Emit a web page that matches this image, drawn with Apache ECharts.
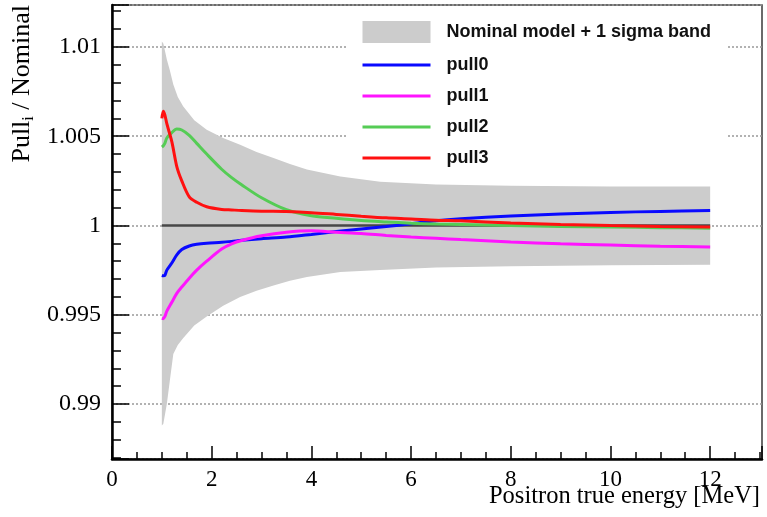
<!DOCTYPE html>
<html>
<head>
<meta charset="utf-8">
<script src="https://cdn.jsdelivr.net/npm/echarts@6/dist/echarts.min.js"></script>
<style>
html,body{margin:0;padding:0;background:#fff;}
#chart{width:767px;height:517px;}
</style>
</head>
<body>
<div id="chart"></div>
<script>
// ---- data ----
const bandEnergy = [1.0, 1.03, 1.1, 1.16, 1.23, 1.32, 1.43, 1.65, 1.9, 2.23, 2.57, 2.9, 3.24, 3.57, 3.91, 4.58, 5.38, 6.5, 8, 10, 12];
const bandUpper  = [1.0103, 1.0102, 1.0093, 1.0087, 1.0079, 1.0072, 1.00666, 1.0059, 1.00536, 1.0049, 1.00452, 1.00412, 1.00378, 1.00344, 1.00313, 1.00275, 1.00245, 1.0023, 1.00222, 1.00218, 1.00218];
const bandLower  = [0.9888, 0.9889, 0.9900, 0.9913, 0.9928, 0.9933, 0.9937, 0.9944, 0.9949, 0.9955, 0.9960, 0.99635, 0.99664, 0.9969, 0.99711, 0.99739, 0.99750, 0.99765, 0.99772, 0.99777, 0.9978];

const energy = [1.0, 1.03, 1.06, 1.1, 1.2, 1.3, 1.4, 1.55, 1.7, 1.9, 2.2, 2.4, 2.6, 3.0, 3.5, 4.0, 4.5, 5.0, 5.5, 6.0, 6.5, 7.0, 8.0, 9.0, 10.0, 11.0, 12.0];
const pull0 = [0.9972, 0.99718, 0.9972, 0.9975, 0.9979, 0.99835, 0.99865, 0.99885, 0.99895, 0.99901, 0.99906, 0.99911, 0.99917, 0.99926, 0.99935, 0.9995, 0.99966, 0.9998, 0.99994, 1.0001, 1.00027, 1.00038, 1.00053, 1.00064, 1.00073, 1.00079, 1.00084];
const pull1 = [0.9948, 0.99478, 0.9949, 0.9952, 0.9957, 0.9962, 0.99655, 0.99705, 0.9975, 0.998, 0.99868, 0.99897, 0.99916, 0.99942, 0.99962, 0.9997, 0.99962, 0.99955, 0.99944, 0.99935, 0.99928, 0.99921, 0.99908, 0.99897, 0.9989, 0.99884, 0.9988];
const pull2 = [1.0044, 1.00447, 1.0046, 1.0049, 1.0052, 1.0054, 1.00535, 1.00505, 1.0046, 1.004, 1.00315, 1.00268, 1.00228, 1.00155, 1.00088, 1.00055, 1.0004, 1.00028, 1.0002, 1.00013, 1.00008, 1.00005, 1.0, 0.99995, 0.99991, 0.99988, 0.99985];
const pull3 = [1.0060, 1.0064, 1.0062, 1.0057, 1.0047, 1.0033, 1.0025, 1.0016, 1.0013, 1.00105, 1.0009, 1.00087, 1.00084, 1.0008, 1.00078, 1.00072, 1.00062, 1.00052, 1.00043, 1.00037, 1.0003, 1.00026, 1.00014, 1.00006, 1.0, 0.99995, 0.99992];
const nominalEnergy = [1, 12];
const nominalValue = [1, 1];

const seriesNames = ['pull0', 'pull1', 'pull2', 'pull3'];
const seriesColors = ['#0a0aff', '#ff14ff', '#55cc55', '#ff1010'];
const bandName = 'Nominal model + 1 sigma band';
const xTitle = 'Positron true energy [MeV]';

// ---- build ----
const zip = (xs, ys) => xs.map((x, i) => [x, ys[i]]);
const pulls = [pull0, pull1, pull2, pull3];

const chart = echarts.init(document.getElementById('chart'), null, {renderer: 'canvas'});
const serif = 'Liberation Serif';

const series = [
  {
    name: bandName, type: 'custom', z: 1, silent: true,
    itemStyle: {color: '#cccccc'},
    data: bandEnergy.map((x, i) => [x, bandLower[i], bandUpper[i]]),
    encode: {x: 0, y: [1, 2]},
    renderItem: function (params, api) {
      if (params.dataIndex !== 0) return null;
      const pts = [];
      for (let i = 0; i < bandEnergy.length; i++) pts.push(api.coord([bandEnergy[i], bandUpper[i]]));
      for (let i = bandEnergy.length - 1; i >= 0; i--) pts.push(api.coord([bandEnergy[i], bandLower[i]]));
      return {type: 'polygon', shape: {points: pts}, style: {fill: '#cccccc'}};
    }
  },
  {
    name: 'nominal', type: 'line', symbol: 'none',
    data: zip(nominalEnergy, nominalValue),
    lineStyle: {color: '#474747', width: 2.5}, z: 2
  }
];
pulls.forEach((p, k) => {
  series.push({
    name: seriesNames[k], type: 'line', symbol: 'none', smooth: 0.3,
    data: zip(energy, p),
    itemStyle: {color: seriesColors[k]},
    lineStyle: {color: seriesColors[k], width: 3}, z: 3
  });
});

chart.setOption({
  animation: false,
  backgroundColor: '#fff',
  grid: {left: 112, right: 5, top: 5, bottom: 58, show: true, borderColor: '#3a3a3a', borderWidth: 1.5,
         containLabel: false, outerBoundsMode: 'none'},
  xAxis: {
    type: 'value', min: 0, max: 13.04, interval: 2,
    axisLine: {show: true, onZero: false, lineStyle: {color: '#000', width: 2.5}},
    axisTick: {show: true, inside: true, length: 13, lineStyle: {color: '#000', width: 1.5}},
    minorTick: {show: true, splitNumber: 4, length: 7, lineStyle: {color: '#000', width: 1.5}},
    axisLabel: {fontFamily: serif, fontSize: 23, color: '#000', margin: 9, showMaxLabel: false},
    splitLine: {show: false}
  },
  yAxis: {
    type: 'value', min: 0.98692, max: 1.01235, splitNumber: 5,
    axisLine: {show: true, onZero: false, lineStyle: {color: '#000', width: 2.5}},
    axisTick: {show: true, inside: true, length: 17, lineStyle: {color: '#000', width: 1.5}},
    minorTick: {show: true, splitNumber: 5, length: 9, lineStyle: {color: '#000', width: 1.5}},
    axisLabel: {fontFamily: serif, fontSize: 24, color: '#000', margin: 11, showMinLabel: false, showMaxLabel: false},
    splitLine: {show: true, lineStyle: {color: '#999', width: 1.5, type: [2, 2]}}
  },
  legend: {
    orient: 'vertical', left: 346, top: 10,
    padding: [11, 16, 4, 15], backgroundColor: '#fff',
    itemWidth: 68, itemHeight: 22, itemGap: 13,
    lineStyle: {width: 3},
    textStyle: {fontFamily: 'Liberation Sans', fontWeight: 'bold', fontSize: 18, color: '#111', padding: [0, 0, 0, 11]},
    data: [
      {name: bandName, icon: 'rect', itemStyle: {color: '#cccccc'}},
      {name: 'pull0', itemStyle: {opacity: 0}},
      {name: 'pull1', itemStyle: {opacity: 0}},
      {name: 'pull2', itemStyle: {opacity: 0}},
      {name: 'pull3', itemStyle: {opacity: 0}}
    ]
  },
  graphic: [{
    type: 'text', x: 22, y: 5, rotation: Math.PI / 2,
    style: {
      text: '{a|Pull}{s|i}{a| / Nominal}',
      align: 'right', verticalAlign: 'middle', fill: '#000',
      rich: {
        a: {fontFamily: serif, fontSize: 26, fill: '#000', lineHeight: 30},
        s: {fontFamily: serif, fontSize: 16, fill: '#000', lineHeight: 30, verticalAlign: 'bottom'}
      }
    }
  }, {
    type: 'text', x: 760, y: 497,
    style: {
      text: xTitle, align: 'right', verticalAlign: 'middle',
      fontFamily: serif, fontSize: 24.5, fill: '#000'
    }
  }],
  series: series
});
</script>
</body>
</html>
